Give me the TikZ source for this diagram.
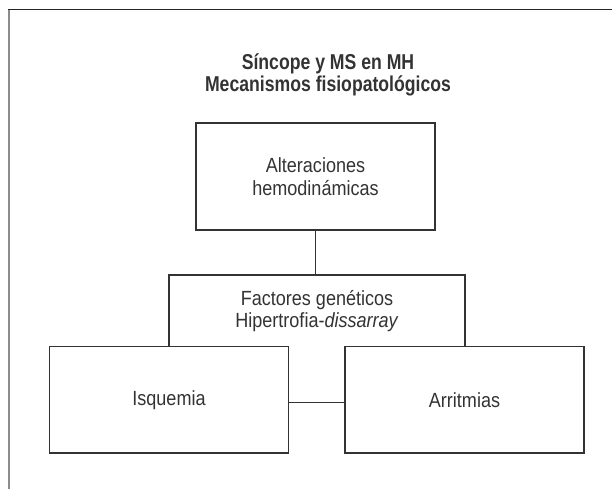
\documentclass[tikz,border=0pt]{standalone}
\usepackage{fontspec}
\setmainfont{Liberation Sans}[FakeStretch=0.88]
\newfontfamily\headfont{Liberation Sans Bold}[FakeStretch=0.82]
\usetikzlibrary{positioning}
\definecolor{inkgray}{rgb}{0.2,0.2,0.2}
\definecolor{framegray}{rgb}{0.55,0.55,0.55}

\begin{document}
\begin{tikzpicture}[x=1pt,y=-1pt,line width=1.2pt,draw=inkgray,font=\fontsize{20.5}{22.5}\selectfont]
	  \tikzstyle{every node}=[text=inkgray,inner sep=0pt,outer sep=0pt,align=center]
	  \tikzstyle{block}=[rectangle,draw=inkgray,minimum width=239pt,minimum height=107pt]

	  \useasboundingbox (0,0) rectangle (612,489);

	  % outer frame, only two sides show
	  \draw[framegray,line width=1.5pt] (9,489) -- (9,9.5);
	  \draw[black!85,line width=1.5pt] (8.3,9.5) -- (612,9.5);

	  \node (title) at (328,75) {\headfont\fontsize{21.5}{23}\selectfont S\'{\i}ncope y MS en MH\\\headfont\fontsize{21.5}{23}\selectfont Mecanismos fisiopatol\'ogicos};

	  \node[block] (alt) at (315.5,176.5) {Alteraciones\\hemodin\'amicas};
	  \node[minimum width=296pt,minimum height=72pt] (fac) [below=45pt of alt.south,anchor=north,xshift=1.5pt] {Factores gen\'eticos\\Hipertrofia-\textit{dissarray}};
	  \node[block,minimum height=106.5pt] (isq) at (169,399.75) {Isquemia};
	  \node[block,minimum height=106.5pt] (arr) at (464.5,399.75) {Arritmias};

	  % open box behind the lower ones
	  \draw (fac.south west) -- (fac.north west) -- (fac.north east) -- (fac.south east);

	  \draw (alt.south) -- (alt.south |- fac.north);
	  \draw ([yshift=-2.5pt]isq.east) -- ([yshift=-2.5pt]arr.west);
	\end{tikzpicture}
\end{document}
